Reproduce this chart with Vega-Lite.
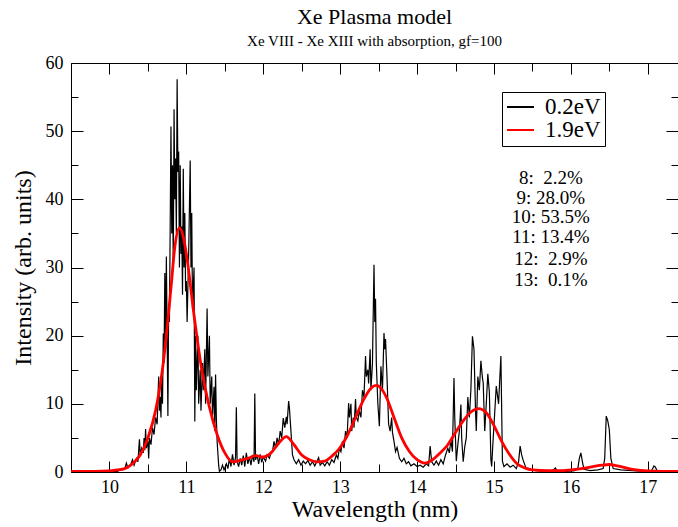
{
  "$schema": "https://vega.github.io/schema/vega-lite/v6.json",
  "width": 607,
  "height": 409,
  "autosize": {"type": "none"},
  "padding": {"left": 71, "top": 63, "right": 0, "bottom": 55},
  "background": "white",
  "config": {
    "view": {"stroke": "black", "strokeWidth": 1},
    "font": "Liberation Serif",
    "axis": {
      "domain": false,
      "ticks": false,
      "tickSize": 0,
      "grid": false,
      "gridColor": "black",
      "gridWidth": 1,
      "gridOpacity": 1,
      "labelColor": "black",
      "titleColor": "black",
      "labelFont": "Liberation Serif",
      "titleFont": "Liberation Serif",
      "labelFontSize": 18,
      "titleFontSize": 24,
      "titleFontWeight": "normal"
    }
  },
  "title": {
    "text": "Xe Plasma model",
    "subtitle": "Xe VIII - Xe XIII with absorption, gf=100",
    "font": "Liberation Serif",
    "fontSize": 22,
    "fontWeight": "normal",
    "color": "black",
    "subtitleFont": "Liberation Serif",
    "subtitleFontSize": 15,
    "subtitleColor": "black",
    "subtitlePadding": 5,
    "anchor": "middle",
    "frame": "group",
    "offset": 4
  },
  "datasets": {
    "black": [
      {"w":9.50,"i":0},{"w":9.60,"i":0},{"w":9.80,"i":0},{"w":9.95,"i":0},{"w":10.00,"i":0.1},{"w":10.10,"i":0.1},{"w":10.15,"i":0.3},{"w":10.20,"i":0.5},{"w":10.22,"i":1.3},{"w":10.24,"i":0.6},{"w":10.28,"i":1.2},{"w":10.30,"i":1.8},{"w":10.32,"i":1.0},{"w":10.35,"i":2.0},{"w":10.37,"i":1.5},{"w":10.39,"i":4.8},{"w":10.40,"i":2.5},{"w":10.42,"i":3.5},{"w":10.44,"i":2.8},{"w":10.45,"i":5.0},{"w":10.46,"i":3.2},{"w":10.47,"i":6.3},{"w":10.48,"i":3.5},{"w":10.50,"i":4.5},{"w":10.51,"i":2.0},{"w":10.52,"i":5.0},{"w":10.54,"i":4.0},{"w":10.56,"i":6.5},{"w":10.58,"i":5.5},{"w":10.60,"i":8.0},{"w":10.62,"i":7.0},{"w":10.64,"i":14.0},{"w":10.65,"i":9.0},{"w":10.66,"i":11.0},{"w":10.67,"i":8.0},{"w":10.68,"i":15.0},{"w":10.69,"i":10.0},{"w":10.70,"i":20.3},{"w":10.71,"i":16.0},{"w":10.72,"i":29.2},{"w":10.73,"i":18.0},{"w":10.74,"i":31.6},{"w":10.75,"i":20.0},{"w":10.76,"i":8.2},{"w":10.77,"i":24.0},{"w":10.78,"i":22.0},{"w":10.80,"i":50.7},{"w":10.81,"i":35.0},{"w":10.82,"i":45.0},{"w":10.83,"i":30.0},{"w":10.84,"i":53.2},{"w":10.85,"i":40.0},{"w":10.86,"i":46.0},{"w":10.87,"i":35.0},{"w":10.88,"i":57.6},{"w":10.89,"i":44.0},{"w":10.90,"i":47.0},{"w":10.91,"i":30.0},{"w":10.92,"i":45.0},{"w":10.93,"i":32.0},{"w":10.94,"i":36.0},{"w":10.95,"i":26.0},{"w":10.96,"i":44.5},{"w":10.97,"i":30.0},{"w":10.98,"i":38.0},{"w":10.99,"i":26.5},{"w":11.00,"i":28.0},{"w":11.01,"i":22.0},{"w":11.03,"i":32.0},{"w":11.05,"i":45.7},{"w":11.06,"i":30.0},{"w":11.07,"i":38.0},{"w":11.08,"i":24.0},{"w":11.10,"i":30.0},{"w":11.11,"i":7.4},{"w":11.12,"i":20.0},{"w":11.13,"i":12.0},{"w":11.15,"i":20.0},{"w":11.16,"i":10.0},{"w":11.18,"i":15.0},{"w":11.19,"i":9.0},{"w":11.21,"i":16.0},{"w":11.22,"i":12.0},{"w":11.24,"i":18.0},{"w":11.25,"i":10.0},{"w":11.27,"i":24.0},{"w":11.28,"i":14.0},{"w":11.30,"i":20.0},{"w":11.31,"i":10.0},{"w":11.33,"i":14.0},{"w":11.34,"i":8.0},{"w":11.36,"i":12.5},{"w":11.37,"i":6.0},{"w":11.38,"i":14.3},{"w":11.39,"i":8.0},{"w":11.40,"i":4.5},{"w":11.42,"i":1.0},{"w":11.43,"i":0.1},{"w":11.45,"i":0.3},{"w":11.47,"i":1.0},{"w":11.49,"i":0.3},{"w":11.52,"i":1.2},{"w":11.54,"i":0.5},{"w":11.56,"i":2.0},{"w":11.58,"i":0.8},{"w":11.60,"i":2.6},{"w":11.62,"i":1.0},{"w":11.64,"i":2.2},{"w":11.65,"i":9.5},{"w":11.66,"i":1.5},{"w":11.68,"i":0.8},{"w":11.70,"i":2.0},{"w":11.72,"i":1.0},{"w":11.74,"i":2.4},{"w":11.76,"i":0.8},{"w":11.78,"i":2.8},{"w":11.80,"i":1.2},{"w":11.82,"i":2.2},{"w":11.84,"i":1.0},{"w":11.86,"i":2.5},{"w":11.88,"i":1.5},{"w":11.89,"i":11.5},{"w":11.90,"i":1.8},{"w":11.92,"i":2.5},{"w":11.94,"i":1.2},{"w":11.96,"i":2.6},{"w":11.98,"i":1.4},{"w":12.00,"i":2.2},{"w":12.03,"i":1.6},{"w":12.05,"i":2.5},{"w":12.08,"i":2.0},{"w":12.10,"i":2.8},{"w":12.12,"i":3.0},{"w":12.14,"i":4.5},{"w":12.16,"i":3.5},{"w":12.18,"i":5.0},{"w":12.20,"i":4.0},{"w":12.22,"i":6.0},{"w":12.24,"i":5.0},{"w":12.26,"i":7.9},{"w":12.28,"i":6.5},{"w":12.30,"i":8.1},{"w":12.31,"i":7.0},{"w":12.33,"i":10.4},{"w":12.34,"i":9.4},{"w":12.36,"i":6.0},{"w":12.38,"i":2.5},{"w":12.40,"i":1.8},{"w":12.43,"i":1.2},{"w":12.46,"i":1.8},{"w":12.49,"i":1.0},{"w":12.52,"i":1.6},{"w":12.55,"i":1.2},{"w":12.58,"i":1.7},{"w":12.61,"i":1.0},{"w":12.64,"i":1.5},{"w":12.67,"i":0.9},{"w":12.70,"i":1.6},{"w":12.72,"i":2.1},{"w":12.74,"i":1.0},{"w":12.77,"i":1.4},{"w":12.80,"i":0.9},{"w":12.83,"i":1.5},{"w":12.86,"i":1.0},{"w":12.89,"i":1.8},{"w":12.92,"i":1.4},{"w":12.95,"i":2.5},{"w":12.97,"i":2.0},{"w":12.99,"i":3.5},{"w":13.01,"i":3.0},{"w":13.03,"i":4.5},{"w":13.05,"i":3.5},{"w":13.07,"i":6.0},{"w":13.09,"i":5.0},{"w":13.11,"i":10.1},{"w":13.12,"i":8.0},{"w":13.14,"i":10.0},{"w":13.15,"i":6.0},{"w":13.17,"i":8.0},{"w":13.18,"i":6.5},{"w":13.20,"i":10.7},{"w":13.21,"i":8.0},{"w":13.23,"i":7.5},{"w":13.25,"i":9.0},{"w":13.27,"i":8.0},{"w":13.29,"i":12.0},{"w":13.31,"i":11.0},{"w":13.33,"i":17.0},{"w":13.34,"i":14.0},{"w":13.36,"i":15.0},{"w":13.37,"i":13.0},{"w":13.39,"i":18.0},{"w":13.40,"i":12.0},{"w":13.42,"i":16.0},{"w":13.44,"i":30.4},{"w":13.45,"i":22.0},{"w":13.46,"i":25.4},{"w":13.47,"i":16.0},{"w":13.49,"i":10.0},{"w":13.51,"i":6.7},{"w":13.53,"i":15.5},{"w":13.55,"i":12.0},{"w":13.57,"i":20.4},{"w":13.58,"i":18.0},{"w":13.59,"i":19.5},{"w":13.61,"i":13.6},{"w":13.63,"i":7.0},{"w":13.65,"i":6.0},{"w":13.67,"i":8.0},{"w":13.68,"i":5.8},{"w":13.70,"i":4.5},{"w":13.72,"i":3.0},{"w":13.74,"i":3.6},{"w":13.77,"i":2.0},{"w":13.80,"i":1.5},{"w":13.83,"i":2.0},{"w":13.86,"i":1.2},{"w":13.89,"i":1.5},{"w":13.92,"i":0.9},{"w":13.96,"i":1.2},{"w":14.00,"i":0.8},{"w":14.04,"i":1.0},{"w":14.08,"i":0.7},{"w":14.12,"i":1.2},{"w":14.15,"i":0.9},{"w":14.17,"i":3.8},{"w":14.19,"i":1.5},{"w":14.22,"i":1.0},{"w":14.25,"i":1.6},{"w":14.28,"i":1.0},{"w":14.31,"i":1.8},{"w":14.34,"i":1.2},{"w":14.37,"i":2.5},{"w":14.40,"i":3.5},{"w":14.42,"i":2.8},{"w":14.44,"i":4.7},{"w":14.46,"i":3.0},{"w":14.48,"i":13.8},{"w":14.49,"i":8.0},{"w":14.51,"i":1.6},{"w":14.53,"i":4.0},{"w":14.55,"i":6.0},{"w":14.57,"i":9.9},{"w":14.58,"i":5.0},{"w":14.60,"i":1.5},{"w":14.62,"i":3.7},{"w":14.64,"i":5.0},{"w":14.66,"i":11.0},{"w":14.68,"i":8.0},{"w":14.70,"i":12.1},{"w":14.72,"i":19.9},{"w":14.74,"i":18.0},{"w":14.76,"i":9.0},{"w":14.77,"i":6.0},{"w":14.79,"i":14.0},{"w":14.81,"i":12.0},{"w":14.83,"i":16.3},{"w":14.85,"i":13.8},{"w":14.86,"i":13.1},{"w":14.88,"i":6.0},{"w":14.90,"i":10.0},{"w":14.92,"i":14.4},{"w":14.94,"i":11.7},{"w":14.96,"i":1.8},{"w":14.97,"i":0.8},{"w":14.99,"i":5.0},{"w":15.03,"i":12.6},{"w":15.06,"i":10.0},{"w":15.09,"i":17.0},{"w":15.11,"i":1.6},{"w":15.13,"i":0.8},{"w":15.17,"i":1.2},{"w":15.21,"i":0.7},{"w":15.25,"i":1.0},{"w":15.29,"i":0.5},{"w":15.32,"i":1.5},{"w":15.34,"i":3.8},{"w":15.36,"i":2.5},{"w":15.38,"i":1.7},{"w":15.42,"i":0.5},{"w":15.48,"i":0.3},{"w":15.55,"i":0.2},{"w":15.65,"i":0.1},{"w":15.75,"i":0.1},{"w":15.80,"i":0.6},{"w":15.82,"i":0.1},{"w":15.95,"i":0.1},{"w":16.05,"i":0.2},{"w":16.09,"i":0.5},{"w":16.11,"i":2.0},{"w":16.13,"i":2.8},{"w":16.15,"i":1.5},{"w":16.17,"i":0.4},{"w":16.25,"i":0.2},{"w":16.35,"i":0.3},{"w":16.42,"i":0.5},{"w":16.44,"i":2.0},{"w":16.46,"i":8.2},{"w":16.48,"i":7.5},{"w":16.50,"i":6.2},{"w":16.52,"i":2.0},{"w":16.55,"i":0.5},{"w":16.65,"i":0.3},{"w":16.80,"i":0.2},{"w":16.95,"i":0.1},{"w":17.05,"i":0.2},{"w":17.08,"i":0.9},{"w":17.10,"i":0.7},{"w":17.12,"i":0.2},{"w":17.25,"i":0.1},{"w":17.40,"i":0.1}
    ],
    "red": [
      {"w":9.5,"i":0.1},{"w":9.8,"i":0.1},{"w":10.0,"i":0.15},{"w":10.1,"i":0.3},{"w":10.2,"i":0.5},{"w":10.3,"i":1.2},{"w":10.4,"i":2.5},{"w":10.5,"i":5.0},{"w":10.6,"i":9.0},{"w":10.7,"i":16.0},{"w":10.8,"i":27.0},{"w":10.85,"i":33.0},{"w":10.91,"i":35.8},{"w":10.96,"i":34.5},{"w":11.0,"i":32.0},{"w":11.1,"i":23.0},{"w":11.2,"i":15.0},{"w":11.3,"i":9.5},{"w":11.4,"i":5.5},{"w":11.5,"i":2.8},{"w":11.6,"i":1.5},{"w":11.7,"i":1.7},{"w":11.8,"i":2.0},{"w":11.9,"i":2.4},{"w":12.0,"i":2.2},{"w":12.1,"i":2.8},{"w":12.2,"i":4.2},{"w":12.3,"i":5.2},{"w":12.4,"i":4.0},{"w":12.5,"i":2.5},{"w":12.6,"i":1.8},{"w":12.7,"i":1.5},{"w":12.8,"i":1.6},{"w":12.9,"i":2.4},{"w":13.0,"i":3.6},{"w":13.1,"i":5.5},{"w":13.2,"i":8.0},{"w":13.3,"i":10.5},{"w":13.4,"i":12.3},{"w":13.47,"i":12.7},{"w":13.55,"i":12.0},{"w":13.6,"i":11.0},{"w":13.7,"i":8.0},{"w":13.8,"i":5.0},{"w":13.9,"i":3.0},{"w":14.0,"i":1.8},{"w":14.1,"i":1.3},{"w":14.2,"i":1.8},{"w":14.3,"i":2.8},{"w":14.4,"i":4.0},{"w":14.5,"i":5.8},{"w":14.6,"i":7.5},{"w":14.7,"i":8.8},{"w":14.8,"i":9.3},{"w":14.9,"i":8.7},{"w":15.0,"i":6.8},{"w":15.1,"i":4.5},{"w":15.2,"i":2.6},{"w":15.3,"i":1.2},{"w":15.4,"i":0.6},{"w":15.5,"i":0.3},{"w":15.7,"i":0.2},{"w":15.9,"i":0.2},{"w":16.0,"i":0.3},{"w":16.2,"i":0.6},{"w":16.4,"i":1.0},{"w":16.5,"i":1.1},{"w":16.6,"i":0.9},{"w":16.8,"i":0.4},{"w":17.0,"i":0.15},{"w":17.2,"i":0.1},{"w":17.4,"i":0.1}
    ],
    "notes": [
      {"t":"8:\u00a0\u00a02.2%","w":15.74,"i":43.2},
      {"t":"9: 28.0%","w":15.74,"i":40.2},
      {"t":"10: 53.5%","w":15.74,"i":37.4},
      {"t":"11: 13.4%","w":15.74,"i":34.5},
      {"t":"12:\u00a0\u00a02.9%","w":15.74,"i":31.3},
      {"t":"13:\u00a0\u00a00.1%","w":15.74,"i":28.2}
    ]
  },
  "layer": [
    {
      "data": {"name": "black"},
      "mark": {"type": "line", "strokeWidth": 1.2, "clip": true},
      "encoding": {
        "x": {
          "field": "w", "type": "quantitative",
          "scale": {"domain": [9.5, 17.393], "nice": false, "zero": false},
          "axis": {
            "orient": "bottom",
            "grid": true,
            "gridDash": [11, 387, 11, 200],
            "title": "Wavelength (nm)",
            "values": [10,11,12,13,14,15,16,17],
            "format": "d",
            "labelPadding": 6,
            "titleBaseline": "middle",
            "titleY": 37,
            "labelFlush": false,
            "labelOverlap": false
          }
        },
        "y": {
          "field": "i", "type": "quantitative",
          "scale": {"domain": [0, 60], "nice": false},
          "axis": {
            "orient": "left",
            "grid": true,
            "gridDash": [12, 583, 12, 200],
            "title": "Intensity (arb. units)",
            "values": [0,10,20,30,40,50,60],
            "format": "d",
            "labelPadding": 8,
            "titlePadding": 10,
            "labelFlush": false,
            "labelOverlap": false
          }
        },
        "color": {
          "datum": "0.2eV", "type": "nominal",
          "scale": {"domain": ["0.2eV", "1.9eV"], "range": ["black", "#ff0000"]},
          "legend": {
            "title": null,
            "orient": "none",
            "legendX": 431,
            "legendY": 29,
            "direction": "vertical",
            "strokeColor": "black",
            "fillColor": "white",
            "padding": 4,
            "symbolType": "stroke",
            "symbolSize": 729,
            "symbolStrokeWidth": 2,
            "labelFont": "Liberation Serif",
            "labelFontSize": 23,
            "labelColor": "black",
            "labelOffset": 10,
            "clipHeight": 22,
            "rowPadding": 0
          }
        }
      }
    },
    {
      "data": {"name": "red"},
      "mark": {"type": "line", "strokeWidth": 2.8, "interpolate": "monotone", "clip": true},
      "encoding": {
        "x": {"field": "w", "type": "quantitative", "axis": null},
        "y": {"field": "i", "type": "quantitative", "axis": null},
        "color": {"datum": "1.9eV", "type": "nominal"}
      }
    },
    {
      "data": {"name": "notes"},
      "mark": {"type": "text", "align": "center", "baseline": "middle", "font": "Liberation Serif", "fontSize": 19, "color": "black"},
      "encoding": {
        "x": {
          "field": "w", "type": "quantitative",
          "axis": {
            "orient": "bottom",
            "grid": true,
            "gridDash": [8, 393, 8, 200],
            "title": null,
            "labels": false,
            "values": [9.5,10.5,11.5,12.5,13.5,14.5,15.5,16.5]
          }
        },
        "y": {
          "field": "i", "type": "quantitative",
          "axis": {
            "orient": "left",
            "grid": true,
            "gridDash": [7, 593, 7, 200],
            "title": null,
            "labels": false,
            "values": [5,15,25,35,45,55]
          }
        },
        "text": {"field": "t"}
      }
    }
  ],
  "resolve": {"scale": {"x": "shared", "y": "shared"}, "axis": {"x": "independent", "y": "independent"}}
}
